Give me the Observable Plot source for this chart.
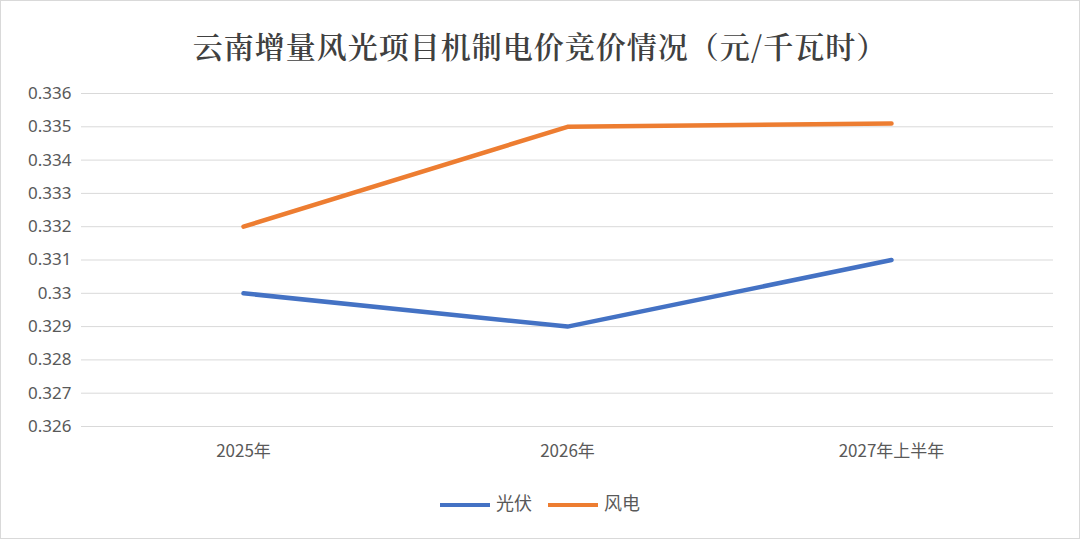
<!DOCTYPE html>
<html><head><meta charset="utf-8">
<script src="https://cdn.jsdelivr.net/npm/d3@7"></script>
<script src="https://cdn.jsdelivr.net/npm/@observablehq/plot@0.6"></script>
<style>
body{margin:0;background:#fff;}
#wrap{width:1078px;height:537px;border:1px solid #d9d9d9;position:relative;font-family:"Noto Sans CJK SC","Noto Sans",sans-serif;}
#title{height:75px;line-height:88px;text-align:center;font-size:30px;font-weight:600;color:#404040;font-family:"Noto Serif CJK SC","Noto Sans CJK SC",serif;letter-spacing:1px;}
#legend{position:absolute;top:488px;left:0;width:100%;text-align:center;font-size:18px;color:#595959;}
.sw{display:inline-block;width:50px;height:4px;vertical-align:middle;margin:0 6px 0 0;}
</style></head><body>
<div id="wrap"><div id="title">云南增量风光项目机制电价竞价情况（元/千瓦时）</div><div id="chart"></div>
<div id="legend"><span class="sw" style="background:#4472c4"></span>光伏 &nbsp;&nbsp;&nbsp;<span class="sw" style="background:#ed7d31"></span>风电</div></div>
<script>
const categories=["2025年","2026年","2027年上半年"];
const pv=[0.330,0.329,0.331];
const wind=[0.332,0.335,0.3351];
const yTicks=[0.326,0.327,0.328,0.329,0.33,0.331,0.332,0.333,0.334,0.335,0.336];
const data=[...categories.map((c,i)=>({c,v:pv[i],s:"光伏"})),...categories.map((c,i)=>({c,v:wind[i],s:"风电"}))];
const p=Plot.plot({width:1078,height:400,marginTop:17,marginBottom:50,marginLeft:80,marginRight:26,
style:{fontSize:"17px",color:"#595959",fontFamily:"Noto Sans, sans-serif"},
x:{type:"point",domain:categories,padding:0.5,label:null},
y:{domain:[0.326,0.336],ticks:yTicks,label:null,tickFormat:d=>String(+d.toFixed(3))},
color:{domain:["光伏","风电"],range:["#4472c4","#ed7d31"]},
marks:[
Plot.gridY(yTicks,{stroke:"#d9d9d9",strokeOpacity:1}),
Plot.axisY(yTicks,{tickSize:0,tickPadding:10,fontSize:17,tickFormat:d=>String(+d.toFixed(3))}),
Plot.axisX({tickSize:0,tickPadding:18,fontSize:17,fontFamily:"Noto Sans CJK SC"}),
Plot.line(data,{x:"c",y:"v",z:"s",stroke:"s",strokeWidth:4.5})
]});
document.getElementById("chart").appendChild(p);
</script></body></html>
